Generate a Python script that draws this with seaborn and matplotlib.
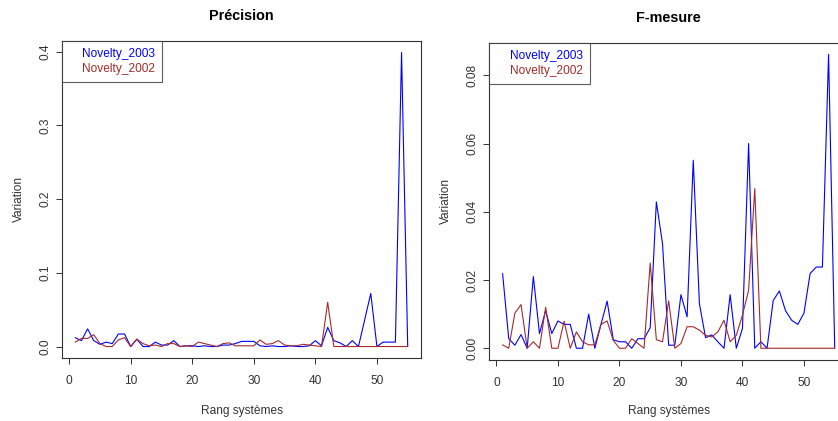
import numpy as np
import pandas as pd
import matplotlib
matplotlib.use("Agg")
import matplotlib.pyplot as plt
from matplotlib.lines import Line2D
import seaborn as sns

# data (rank 1..55)
rang = list(range(1, 56))

prec_2003 = [0.012, 0.008, 0.024, 0.008, 0.003, 0.006, 0.004, 0.017, 0.017, 0.0,
             0.010, 0.0, 0.0, 0.006, 0.002, 0.002, 0.008, 0.0, 0.001, 0.001,
             0.0, 0.001, 0.0, 0.0, 0.002, 0.002, 0.004, 0.007, 0.007, 0.007,
             0.001, 0.0, 0.001, 0.0, 0.0, 0.001, 0.0, 0.0, 0.001, 0.008,
             0.001, 0.026, 0.008, 0.005, 0.0, 0.008, 0.0, 0.036, 0.072, 0.0,
             0.006, 0.006, 0.006, 0.399, 0.0]
prec_2002 = [0.006, 0.011, 0.011, 0.016, 0.004, 0.0, 0.0, 0.009, 0.012, 0.0,
             0.010, 0.004, 0.001, 0.002, 0.0, 0.004, 0.004, 0.0, 0.001, 0.0,
             0.006, 0.004, 0.002, 0.0, 0.004, 0.005, 0.001, 0.001, 0.001, 0.001,
             0.009, 0.003, 0.004, 0.008, 0.002, 0.001, 0.001, 0.003, 0.002, 0.001,
             0.0, 0.060, 0.0, 0.0, 0.0, 0.0, 0.0, 0.0, 0.0, 0.0,
             0.0, 0.0, 0.0, 0.0, 0.0]

fmes_2003 = [0.0219, 0.0028, 0.0009, 0.004, 0.0, 0.021, 0.0043, 0.011, 0.0043, 0.008,
             0.007, 0.007, 0.0, 0.0, 0.010, 0.0, 0.007, 0.0138, 0.0025, 0.0019,
             0.0019, 0.0, 0.0028, 0.0028, 0.006, 0.0429, 0.0307, 0.0009, 0.0009, 0.0157,
             0.0092, 0.0551, 0.0131, 0.0031, 0.0039, 0.0019, 0.0, 0.0157, 0.0, 0.0058,
             0.060, 0.0, 0.0019, 0.0, 0.014, 0.0168, 0.011, 0.0082, 0.007, 0.0103,
             0.0219, 0.0238, 0.0238, 0.0861, 0.0]
fmes_2002 = [0.001, 0.0, 0.0103, 0.0128, 0.0, 0.0019, 0.0, 0.012, 0.0, 0.0,
             0.0079, 0.0, 0.0048, 0.0019, 0.001, 0.001, 0.007, 0.008, 0.0023, 0.0,
             0.0, 0.0028, 0.0014, 0.0, 0.025, 0.0025, 0.0019, 0.0139, 0.0, 0.0014,
             0.0063, 0.0063, 0.0053, 0.0038, 0.0033, 0.0048, 0.0082, 0.0019, 0.0038, 0.0097,
             0.017, 0.0468, 0.0, 0.0, 0.0, 0.0, 0.0, 0.0, 0.0, 0.0,
             0.0, 0.0, 0.0, 0.0, 0.0]

series = ["Novelty_2003", "Novelty_2002"]
colors = {"Novelty_2003": "#0000FF", "Novelty_2002": "#A52A2A"}

prec_ticks = [0.0, 0.1, 0.2, 0.3, 0.4]
prec_labels = ["0.0", "0.1", "0.2", "0.3", "0.4"]
fmes_ticks = [0.0, 0.02, 0.04, 0.06, 0.08]
fmes_labels = ["0.00", "0.02", "0.04", "0.06", "0.08"]
x_ticks = [0, 10, 20, 30, 40, 50]

sns.set_style("white")
plt.rcParams["font.family"] = ["Liberation Sans", "DejaVu Sans"]

W, H = 838, 421
fig = plt.figure(figsize=(W / 100, H / 100), dpi=100)

txt = "#333333"


def panel(rect, v2003, v2002, title, yticks, ylabels, ylab_x, xlab_y):
    ax = fig.add_axes(rect)
    df = pd.DataFrame({
        "rang": rang * 2,
        "val": v2003 + v2002,
        "serie": ["Novelty_2003"] * len(rang) + ["Novelty_2002"] * len(rang),
    })
    sns.lineplot(data=df, x="rang", y="val", hue="serie", hue_order=series,
                 palette=colors, linewidth=0.8, legend=False, ax=ax)

    # R style 4% padding
    allv = np.array(v2003 + v2002)
    lo, hi = allv.min(), allv.max()
    r = hi - lo
    ax.set_ylim(lo - 0.04 * r, hi + 0.04 * r)
    ax.set_xlim(1 - 0.04 * 54, 55 + 0.04 * 54)

    ax.set_xticks(x_ticks)
    ax.set_xticklabels([str(t) for t in x_ticks])
    ax.set_yticks(yticks)
    ax.set_yticklabels(ylabels, rotation=90, va="center")
    ax.tick_params(axis="both", direction="out", length=4.3, width=0.7,
                   color=txt, labelcolor=txt, labelsize=8.6,
                   bottom=True, left=True)
    ax.tick_params(axis="x", pad=7.7)
    ax.tick_params(axis="y", pad=3.5)
    for s in ax.spines.values():
        s.set_color(txt)
        s.set_linewidth(0.8)

    ax.set_xlabel("Rang systèmes", fontsize=8.6, color=txt)
    ax.set_ylabel("Variation", fontsize=8.6, color=txt)
    ax.xaxis.set_label_coords(0.5, xlab_y)
    ax.yaxis.set_label_coords(ylab_x, 0.5)
    ax.text(0.5, 1.078, title, transform=ax.transAxes, ha="center",
            va="center", fontsize=10.4, fontweight="bold", color="black")

    handles = [Line2D([], [], linestyle="none") for _ in series]
    leg = ax.legend(handles, series, loc="upper left", borderaxespad=0,
                    fontsize=8.6, frameon=True, fancybox=False,
                    handlelength=0.8, handletextpad=0.3, borderpad=0.6,
                    labelspacing=0.25)
    leg.get_frame().set_edgecolor(txt)
    leg.get_frame().set_linewidth(0.8)
    for t, s in zip(leg.get_texts(), series):
        t.set_color(colors[s])
    return ax


# left panel: box x 62..421, y 40.7..358.3 (pixels)
panel([62 / W, 1 - 358.3 / H, (421 - 62) / W, (358.3 - 40.7) / H],
      prec_2003, prec_2002, "Précision", prec_ticks, prec_labels,
      -0.103, -0.147)
# right panel runs off the right edge of the picture
panel([489.3 / W, 1 - 360 / H, (848 - 489.3) / W, (360 - 42.7) / H],
      fmes_2003, fmes_2002, "F-mesure", fmes_ticks, fmes_labels,
      -0.104, -0.142)

fig.savefig("out.png", dpi=100)
